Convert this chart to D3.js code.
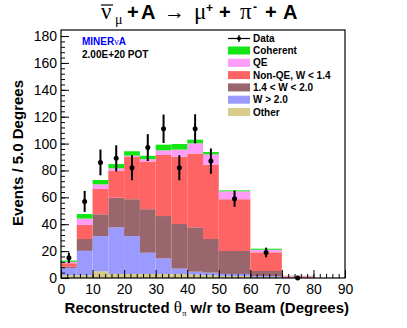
<!DOCTYPE html>
<html>
<head>
<meta charset="utf-8">
<script src="https://cdn.jsdelivr.net/npm/d3@7"></script>
<style>
body { margin: 0; background: #fff; }
</style>
</head>
<body>
<script>
// bin edges in degrees (last bins are 10 deg wide, normalized to 5 deg)
var edges = [0, 5, 10, 15, 20, 25, 30, 35, 40, 45, 50, 60, 70, 80];

// MC components, events / 5 degrees
var other    = [2, 2, 5, 3, 3, 3, 3, 3, 2.5, 2, 1.5, 0.8, 0.1];
var wHigh    = [5.5, 18.2, 26.2, 34.7, 28.2, 15.8, 11.6, 4, 2.2, 2, 1.5, 0.7, 0.1];
var wMid     = [0.8, 8.8, 16.2, 22, 27.4, 32.4, 31.5, 33.2, 33, 25, 17.1, 3.7, 0.2];
var nonQE    = [2.7, 10.5, 18.8, 20.1, 31.4, 35.5, 45.4, 50.1, 54.8, 55.4, 38.5, 13.9, 0.8];
var qe       = [1, 4.7, 3.5, 1.8, 1, 1.7, 3.5, 5.2, 7.7, 7.6, 5.9, 1.9, 0.4];
var coherent = [1, 3.4, 3.2, 3.2, 3.3, 2.5, 4.2, 4.2, 2.7, 1.7, 0.7, 0.8, 0.1];

// data points and their errors
var dataVals = [15, 57, 86, 89, 82, 97, 111, 82, 111, 87, 59, 19, 0];
var dataErrs = [3.9, 7.8, 9.6, 9.7, 9.3, 10, 10.6, 9.3, 10.8, 9.4, 6, 3.6, 0];

var keys = ["other", "wHigh", "wMid", "nonQE", "qe", "coherent"];
var labels = {coherent: "Coherent", qe: "QE", nonQE: "Non-QE, W < 1.4", wMid: "1.4 < W < 2.0", wHigh: "W > 2.0", other: "Other"};
var colors = {coherent: "#14e614", qe: "#ff9cf8", nonQE: "#ff6464", wMid: "#98666c", wHigh: "#9a9aff", other: "#d4cc88"};
var legendOrder = ["coherent", "qe", "nonQE", "wMid", "wHigh", "other"];

var xTicks = [0, 10, 20, 30, 40, 50, 60, 70, 80, 90];
var yTicks = [0, 20, 40, 60, 80, 100, 120, 140, 160, 180];

var sans = "'Liberation Sans', Arial, sans-serif";
var serif = "'Liberation Serif', 'DejaVu Serif', serif";

var svg = d3.select("body").append("svg")
	.attr("width", 407)
	.attr("height", 328)
	.style("font-family", sans);

var x = d3.scaleLinear().domain([0, 90]).range([61, 345]);
var y = d3.scaleLinear().domain([0, 184.5]).range([278, 30]);

var rows = edges.slice(0, -1).map(function (e, i) {
	return {lo: e, hi: edges[i + 1], other: other[i], wHigh: wHigh[i], wMid: wMid[i],
		nonQE: nonQE[i], qe: qe[i], coherent: coherent[i]};
});

var stacked = d3.stack().keys(keys)(rows);

svg.append("g").selectAll("g")
	.data(stacked)
	.enter().append("g")
	.attr("fill", function (s) { return colors[s.key]; })
	.selectAll("rect")
	.data(function (s) { return s; })
	.enter().append("rect")
	.attr("x", function (d) { return x(d.data.lo); })
	.attr("width", function (d) { return x(d.data.hi) - x(d.data.lo); })
	.attr("y", function (d) { return y(d[1]); })
	.attr("height", function (d) { return y(d[0]) - y(d[1]); });

// axes with inside ticks
var yMinor = d3.range(0, 184, 4);
var xMinor = d3.range(0, 91, 2);

svg.append("g").attr("transform", "translate(61,0)")
	.call(d3.axisLeft(y).tickValues(yMinor).tickSize(-4).tickFormat(""))
	.call(function (g) { g.select(".domain").remove(); });
svg.append("g").attr("transform", "translate(61,0)")
	.call(d3.axisLeft(y).tickValues(yTicks).tickSize(-8).tickPadding(4).tickFormat(d3.format("d")))
	.call(function (g) { g.select(".domain").remove(); })
	.selectAll("text").style("font-size", "14px").style("font-family", sans);

svg.append("g").attr("transform", "translate(0,278)")
	.call(d3.axisBottom(x).tickValues(xMinor).tickSize(-4).tickFormat(""))
	.call(function (g) { g.select(".domain").remove(); });
svg.append("g").attr("transform", "translate(0,278)")
	.call(d3.axisBottom(x).tickValues(xTicks).tickSize(-8).tickPadding(6.5).tickFormat(d3.format("d")))
	.call(function (g) { g.select(".domain").remove(); })
	.selectAll("text").style("font-size", "14px").style("font-family", sans);

svg.selectAll(".tick line").attr("stroke", "#000");

// frame
svg.append("rect")
	.attr("x", 61).attr("y", 30)
	.attr("width", 345 - 61).attr("height", 278 - 30)
	.attr("fill", "none").attr("stroke", "#000").attr("stroke-width", 1.2);

// data points
var pts = svg.append("g").selectAll("g")
	.data(dataVals.map(function (v, i) { return {c: (edges[i] + edges[i + 1]) / 2, v: v, e: dataErrs[i]}; }))
	.enter().append("g");
pts.append("line")
	.attr("x1", function (d) { return x(d.c); }).attr("x2", function (d) { return x(d.c); })
	.attr("y1", function (d) { return y(d.v + d.e); })
	.attr("y2", function (d) { return y(Math.max(0, d.v - d.e)); })
	.attr("stroke", "#000").attr("stroke-width", 2);
pts.append("circle")
	.attr("cx", function (d) { return x(d.c); })
	.attr("cy", function (d) { return y(d.v); })
	.attr("r", 2.5).attr("fill", "#000");

// legend
var lg = svg.append("g").style("font-size", "10px").style("font-weight", "bold");
lg.append("line").attr("x1", 228).attr("x2", 250).attr("y1", 38.5).attr("y2", 38.5).attr("stroke", "#000").attr("stroke-width", 1.2);
lg.append("line").attr("x1", 239).attr("x2", 239).attr("y1", 35).attr("y2", 42).attr("stroke", "#000").attr("stroke-width", 1.2);
lg.append("circle").attr("cx", 239).attr("cy", 38.5).attr("r", 2).attr("fill", "#000");
lg.append("text").attr("x", 253).attr("y", 38.5).attr("dy", "0.35em").text("Data");

var items = lg.selectAll("g.item")
	.data(legendOrder)
	.enter().append("g").attr("class", "item")
	.attr("transform", function (k, i) { return "translate(0," + (50.5 + i * 12.3) + ")"; });
items.append("rect").attr("x", 228).attr("y", -4).attr("width", 22).attr("height", 8)
	.attr("fill", function (k) { return colors[k]; });
items.append("text").attr("x", 253).attr("dy", "0.35em").text(function (k) { return labels[k]; });

// experiment text
var ex = svg.append("text").attr("x", 82).attr("y", 45).attr("fill", "#0000ff")
	.style("font-size", "10px").style("font-weight", "bold");
ex.append("tspan").text("MINER");
ex.append("tspan").style("font-family", serif).style("font-weight", "normal").style("font-size", "10px").text("ν");
ex.append("tspan").text("A");
svg.append("text").attr("x", 82).attr("y", 57.5)
	.style("font-size", "10px").style("font-weight", "bold").text("2.00E+20 POT");

// title, pieces placed one by one like the TLatex layout
var titleParts = [
	{t: "ν", x: 101, y: 19, f: serif, s: 23, w: "normal"},
	{t: "μ", x: 115, y: 24, f: serif, s: 14, w: "normal"},
	{t: "+", x: 127, y: 19, f: sans, s: 20, w: "bold"},
	{t: "A", x: 141, y: 19, f: sans, s: 20, w: "bold"},
	{t: "→", x: 164, y: 19, f: serif, s: 21, w: "normal"},
	{t: "μ", x: 194, y: 19, f: serif, s: 23, w: "normal"},
	{t: "+", x: 206, y: 12, f: sans, s: 12, w: "bold"},
	{t: "+", x: 219, y: 19, f: sans, s: 20, w: "bold"},
	{t: "π", x: 240, y: 19, f: serif, s: 23, w: "normal"},
	{t: "-", x: 253, y: 11, f: sans, s: 12, w: "bold"},
	{t: "+", x: 265, y: 19, f: sans, s: 20, w: "bold"},
	{t: "A", x: 283, y: 19, f: sans, s: 20, w: "bold"}
];
svg.append("g").selectAll("text")
	.data(titleParts)
	.enter().append("text")
	.attr("x", function (d) { return d.x; })
	.attr("y", function (d) { return d.y; })
	.style("font-family", function (d) { return d.f; })
	.style("font-size", function (d) { return d.s + "px"; })
	.style("font-weight", function (d) { return d.w; })
	.text(function (d) { return d.t; });
svg.append("line").attr("x1", 101).attr("x2", 113).attr("y1", 5).attr("y2", 5)
	.attr("stroke", "#000").attr("stroke-width", 1.2);

// axis titles
var xt = svg.append("text").attr("x", 349).attr("y", 313).attr("text-anchor", "end")
	.style("font-size", "15px").style("font-weight", "bold");
xt.append("tspan").text("Reconstructed ");
xt.append("tspan").style("font-family", serif).style("font-weight", "normal").style("font-size", "17px").text(" θ");
xt.append("tspan").style("font-family", serif).style("font-weight", "normal").style("font-size", "9px").attr("dy", 3).text("π");
xt.append("tspan").attr("dy", -3).text(" w/r to Beam (Degrees)");

svg.append("text").attr("transform", "translate(23,80) rotate(-90)").attr("text-anchor", "end")
	.style("font-size", "15px").style("font-weight", "bold").text("Events / 5.0 Degrees");
</script>
</body>
</html>
